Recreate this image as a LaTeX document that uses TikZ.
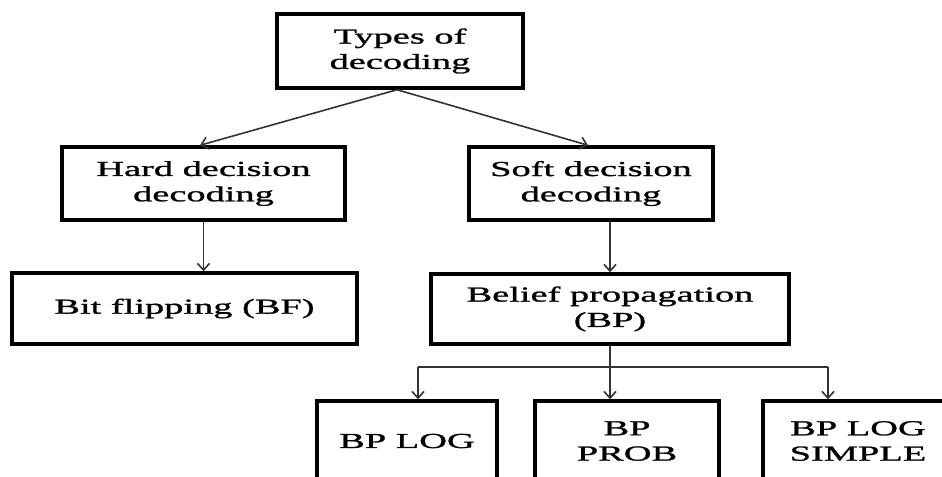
\documentclass[tikz,border=0pt]{standalone}
\usepackage{fontspec}
\setmainfont{Liberation Serif}[FakeStretch=1.8, FakeBold=1.2]
\usetikzlibrary{arrows.meta}
\definecolor{arrgray}{HTML}{333333}
\tikzset{
  box/.style={draw=black, line width=2.6pt, rectangle, align=center, inner sep=0pt,
    font=\fontsize{16pt}{19pt}\selectfont},
  arr/.style={draw=arrgray, line width=1.2pt, -{Straight Barb[length=5pt,width=9pt]}},
  ln/.style={draw=arrgray, line width=1.2pt}
}
\begin{document}
\begin{tikzpicture}[x=0.75pt, y=-0.75pt]
\useasboundingbox (0,0) rectangle (942,476);
\clip (0,0) rectangle (942,476);
\fill[white] (0,0) rectangle (942,476);

\node[box, minimum width=246*0.75pt, minimum height=74*0.75pt] (top) at (400,51) {Types of\\decoding};
\node[box, minimum width=283*0.75pt, minimum height=73*0.75pt] (hard) at (203.5,183.5) {Hard decision\\decoding};
\node[box, minimum width=244*0.75pt, minimum height=73*0.75pt] (soft) at (591,183.5) {Soft decision\\decoding};
\node[box, minimum width=345*0.75pt, minimum height=71*0.75pt] (bit) at (184.5,308.5) {Bit flipping (BF)};
\node[box, minimum width=358*0.75pt, minimum height=70*0.75pt] (bp) at (610,309) {Belief propagation\\(BP)};
\node[box, minimum width=180*0.75pt, minimum height=80*0.75pt] (log) at (407,441) {BP LOG};
\node[box, minimum width=184*0.75pt, minimum height=80*0.75pt] (prob) at (627,441) {BP\\PROB};
\node[box, minimum width=190*0.75pt, minimum height=80*0.75pt] (simple) at (858,441) {BP LOG\\SIMPLE};

\coordinate (busL) at (418,367);
\coordinate (busR) at (828,367);

\draw[arr] ([xshift=-2.25pt]top.south) -- ([xshift=-2.6pt]hard.north);
\draw[arr] ([xshift=-2.25pt]top.south) -- ([xshift=-2.25pt]soft.north);
\draw[arr] (hard.south) -- (hard.south |- bit.north);
\draw[arr] (bp.north |- soft.south) -- (bp.north);
\draw[arr] (bp.south) -- (bp.south |- prob.north);
\draw[ln] (busL) -- (busR);
\draw[arr] (busL) -- (busL |- log.north);
\draw[arr] (busR) -- (busR |- simple.north);
\end{tikzpicture}
\end{document}
